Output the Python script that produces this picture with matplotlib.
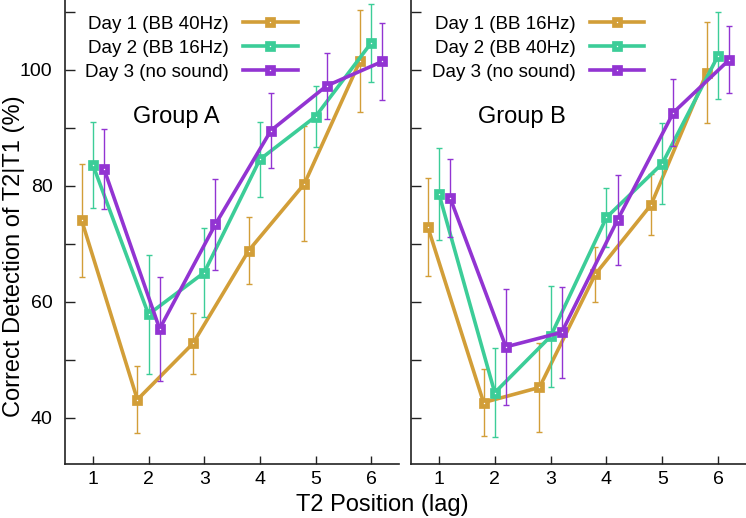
import numpy as np
import matplotlib
matplotlib.use('Agg')
import matplotlib.pyplot as plt
from matplotlib.ticker import MultipleLocator

plt.rcParams['font.family'] = ['Liberation Sans', 'DejaVu Sans']

lags = np.array([1, 2, 3, 4, 5, 6])

# Group A
a_day1 = [74.0, 43.1, 52.8, 68.8, 80.3, 101.5]
a_day1_err = [9.8, 5.8, 5.2, 5.7, 9.9, 8.8]
a_day2 = [83.6, 57.8, 65.0, 84.5, 91.9, 104.6]
a_day2_err = [7.4, 10.3, 7.7, 6.5, 5.2, 6.7]
a_day3 = [82.9, 55.3, 73.3, 89.5, 97.2, 101.4]
a_day3_err = [6.9, 9.0, 7.8, 6.4, 5.7, 6.7]

# Group B
b_day1 = [72.9, 42.6, 45.2, 64.7, 76.7, 99.5]
b_day1_err = [8.4, 5.8, 7.7, 4.8, 5.3, 8.7]
b_day2 = [78.6, 44.3, 54.0, 74.5, 83.8, 102.4]
b_day2_err = [7.9, 7.7, 8.7, 5.0, 7.0, 7.5]
b_day3 = [77.9, 52.2, 54.7, 74.1, 92.6, 101.7]
b_day3_err = [6.7, 10.0, 7.9, 7.8, 5.8, 5.8]

labels_a = ['Day 1 (BB 40Hz)', 'Day 2 (BB 16Hz)', 'Day 3 (no sound)']
labels_b = ['Day 1 (BB 16Hz)', 'Day 2 (BB 40Hz)', 'Day 3 (no sound)']
colors = ['#D29E38', '#3CCD98', '#9234D2']
offsets = [-0.2, 0.0, 0.2]

fig = plt.figure(figsize=(7.46, 5.18), dpi=100)
W, H = 746, 518
ax_a = fig.add_axes([65 / W, (H - 464) / H, 334 / W, 464 / H])
ax_b = fig.add_axes([411 / W, (H - 464) / H, 335 / W, 464 / H])


def draw(ax, means, errs, labels, title, show_ylabels):
    for i in range(3):
        x = lags + offsets[i]
        ax.errorbar(x, means[i], yerr=errs[i], fmt='none', ecolor=colors[i],
                    elinewidth=1.0, capsize=2.2, capthick=1.0, zorder=2 + i)
        ax.plot(x, means[i], color=colors[i], lw=2.6, marker='s', ms=5.0,
                mfc='white', mec=colors[i], mew=3.4, label=labels[i], zorder=3 + i)
    ax.set_xlim(0.5, 6.5)
    ax.set_ylim(32, 112)
    ax.set_xticks(lags)
    ax.yaxis.set_major_locator(MultipleLocator(20))
    ax.yaxis.set_minor_locator(MultipleLocator(10))
    ax.tick_params(axis='both', which='both', direction='in', color='#222222',
                   width=1.0, labelsize=14)
    ax.tick_params(axis='y', which='both', length=7, pad=9)
    ax.tick_params(axis='x', length=6, pad=5)
    if not show_ylabels:
        ax.tick_params(axis='y', labelleft=False)
    for s in ['top', 'right']:
        ax.spines[s].set_visible(False)
    for s in ['left', 'bottom']:
        ax.spines[s].set_linewidth(1.2)
        ax.spines[s].set_color('#222222')
    ax.text(0.332, 0.748, title, transform=ax.transAxes, ha='center',
            va='center', fontsize=17)
    ax.legend(loc='upper right', bbox_to_anchor=(0.713, 0.978), frameon=False,
              markerfirst=False, numpoints=1, fontsize=13.5, handlelength=2.9,
              handletextpad=0.75, labelspacing=0.36, borderpad=0.3,
              borderaxespad=0)


draw(ax_a, [a_day1, a_day2, a_day3], [a_day1_err, a_day2_err, a_day3_err],
     labels_a, 'Group A', True)
draw(ax_b, [b_day1, b_day2, b_day3], [b_day1_err, b_day2_err, b_day3_err],
     labels_b, 'Group B', False)

fig.text(382 / W, 1 - 505 / H, 'T2 Position (lag)', ha='center', va='center',
         fontsize=17)
fig.text(14 / W, 1 - 256 / H, 'Correct Detection of T2|T1 (%)', ha='center',
         va='center', rotation=90, fontsize=17)

fig.savefig('out.png', dpi=100)
